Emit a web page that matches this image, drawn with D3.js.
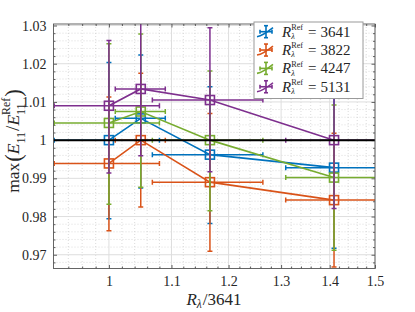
<!DOCTYPE html>
<html><head><meta charset="utf-8">
<script src="https://cdn.jsdelivr.net/npm/d3@7"></script>
<style>body{margin:0;background:#fff} svg{display:block}</style>
</head><body>
<script>
// ---------- data ----------
const categories = [3641, 3822, 4247, 5131];
const seriesColors = ["#0072BD", "#D95319", "#77AC30", "#7E2F8E"];
const xValues = [1.0, 1.0497, 1.1664, 1.4092];
const xErr = [0.08, 0.04, 0.098, 0.1];

const yBlue   = [1.0000, 1.0057, 0.9962, 0.9928];
const yOrange = [0.9939, 1.0000, 0.9890, 0.9843];
const yGreen  = [1.0045, 1.0075, 1.0000, 0.9902];
const yPurple = [1.0090, 1.0134, 1.0105, 1.0000];

const errUpBlue   = [0.0203, 0.0166, 0.0178, 0.0211];
const errLoBlue   = [0.0206, 0.0182, 0.0180, 0.0211];
const errUpOrange = [0.0174, 0.0175, 0.0180, 0.0175];
const errLoOrange = [0.0176, 0.0175, 0.0181, 0.0175];
const errUpGreen  = [0.0207, 0.0203, 0.0181, 0.0190];
const errLoGreen  = [0.0213, 0.0198, 0.0185, 0.0190];
const errUpPurple = [0.0171, 0.0176, 0.0189, 0.0179];
const errLoPurple = [0.0176, 0.0175, 0.0188, 0.0179];

const xTicks = [1, 1.1, 1.2, 1.3, 1.4, 1.5];
const xTickLabels = ["1", "1.1", "1.2", "1.3", "1.4", "1.5"];
const yTicks = [0.97, 0.98, 0.99, 1.0, 1.01, 1.02, 1.03];
const yTickLabels = ["0.97", "0.98", "0.99", "1", "1.01", "1.02", "1.03"];
const referenceLevel = 1;

const seriesY = [yBlue, yOrange, yGreen, yPurple];
const seriesUp = [errUpBlue, errUpOrange, errUpGreen, errUpPurple];
const seriesLo = [errLoBlue, errLoOrange, errLoGreen, errLoPurple];

// ---------- layout ----------
const W = 415, H = 312;
const L = 53.5, R = 375, T = 24, B = 268.5;
const FONT = "'Liberation Serif','DejaVu Serif',serif";

const svg = d3.select("body").append("svg").attr("width", W).attr("height", H)
  .style("font-family", FONT);

const x = d3.scaleLog().domain([0.919, 1.5]).range([L, R]);
const y = d3.scaleLinear().domain([0.9664, 1.0304]).range([B, T]);

svg.append("defs").append("clipPath").attr("id", "clip")
  .append("rect").attr("x", L).attr("y", T).attr("width", R - L).attr("height", B - T);

const xMinor = d3.range(0.94, 1.5, 0.02).map(v => +v.toFixed(2)).filter(v => !xTicks.some(t => Math.abs(t - v) < 1e-6));
const yMinor = d3.range(0.968, 1.0304, 0.002).map(v => +v.toFixed(3)).filter(v => !yTicks.some(t => Math.abs(t - v) < 1e-6));

// grid
const grid = svg.append("g");
grid.selectAll(".gxm").data(xMinor).join("line")
  .attr("x1", d => x(d)).attr("x2", d => x(d)).attr("y1", T).attr("y2", B)
  .attr("stroke", "#c4c4c4").attr("stroke-width", 0.6).attr("stroke-dasharray", "1,2");
grid.selectAll(".gym").data(yMinor).join("line")
  .attr("y1", d => y(d)).attr("y2", d => y(d)).attr("x1", L).attr("x2", R)
  .attr("stroke", "#c4c4c4").attr("stroke-width", 0.6).attr("stroke-dasharray", "1,2");
grid.selectAll(".gx").data(xTicks).join("line")
  .attr("x1", d => x(d)).attr("x2", d => x(d)).attr("y1", T).attr("y2", B)
  .attr("stroke", "#dedede").attr("stroke-width", 1);
grid.selectAll(".gy").data(yTicks).join("line")
  .attr("y1", d => y(d)).attr("y2", d => y(d)).attr("x1", L).attr("x2", R)
  .attr("stroke", "#dedede").attr("stroke-width", 1);

// axes
const axCol = "#3a3a3a";
function styleAxis(g) {
  g.select(".domain").remove();
  g.selectAll("line").attr("stroke", axCol).attr("stroke-width", 0.8);
  g.selectAll("text").attr("fill", "#262626").style("font-family", FONT).attr("font-size", 14);
}
svg.append("g").attr("transform", `translate(0,${B})`)
  .call(d3.axisBottom(x).tickValues(xTicks).tickFormat((d, i) => xTickLabels[i]).tickSizeInner(-3.5).tickSizeOuter(0).tickPadding(8))
  .call(styleAxis);
svg.append("g").attr("transform", `translate(0,${B})`)
  .call(d3.axisBottom(x).tickValues(xMinor).tickFormat("").tickSizeInner(-2).tickSizeOuter(0)).call(styleAxis);
svg.append("g").attr("transform", `translate(0,${T})`)
  .call(d3.axisTop(x).tickValues(xTicks).tickFormat("").tickSizeInner(-3.5).tickSizeOuter(0)).call(styleAxis);
svg.append("g").attr("transform", `translate(0,${T})`)
  .call(d3.axisTop(x).tickValues(xMinor).tickFormat("").tickSizeInner(-2).tickSizeOuter(0)).call(styleAxis);
svg.append("g").attr("transform", `translate(${L},0)`)
  .call(d3.axisLeft(y).tickValues(yTicks).tickFormat((d, i) => yTickLabels[i]).tickSizeInner(-3.5).tickSizeOuter(0).tickPadding(7))
  .call(styleAxis);
svg.append("g").attr("transform", `translate(${L},0)`)
  .call(d3.axisLeft(y).tickValues(yMinor).tickFormat("").tickSizeInner(-2).tickSizeOuter(0)).call(styleAxis);
svg.append("g").attr("transform", `translate(${R},0)`)
  .call(d3.axisRight(y).tickValues(yTicks).tickFormat("").tickSizeInner(-3.5).tickSizeOuter(0)).call(styleAxis);
svg.append("g").attr("transform", `translate(${R},0)`)
  .call(d3.axisRight(y).tickValues(yMinor).tickFormat("").tickSizeInner(-2).tickSizeOuter(0)).call(styleAxis);

// ---------- series ----------
const plot = svg.append("g").attr("clip-path", "url(#clip)");
const cap = 2.5, sw = 1.5, mk = 9;
seriesY.forEach((ys, s) => {
  const col = seriesColors[s];
  const g = plot.append("g");
  const pts = xValues.map((xv, i) => ({ xv, yv: ys[i], up: seriesUp[s][i], lo: seriesLo[s][i], xe: xErr[i] }));
  pts.forEach(p => {
    const xx = x(p.xv), y1 = y(p.yv + p.up), y0 = y(p.yv - p.lo);
    g.append("line").attr("x1", xx).attr("x2", xx).attr("y1", y1).attr("y2", y0).attr("stroke", col).attr("stroke-width", sw);
    [y1, y0].forEach(yy => g.append("line").attr("x1", xx - cap).attr("x2", xx + cap).attr("y1", yy).attr("y2", yy).attr("stroke", col).attr("stroke-width", sw));
    const yy = y(p.yv), x0 = x(p.xv - p.xe), x1 = x(p.xv + p.xe);
    g.append("line").attr("x1", x0).attr("x2", x1).attr("y1", yy).attr("y2", yy).attr("stroke", col).attr("stroke-width", sw);
    [x0, x1].forEach(xc => g.append("line").attr("x1", xc).attr("x2", xc).attr("y1", yy - cap).attr("y2", yy + cap).attr("stroke", col).attr("stroke-width", sw));
  });
  g.append("path").datum(pts)
    .attr("d", d3.line().x(p => x(p.xv)).y(p => y(p.yv)))
    .attr("fill", "none").attr("stroke", col).attr("stroke-width", 1.6);
  g.selectAll("rect").data(pts).join("rect")
    .attr("x", p => x(p.xv) - mk / 2).attr("y", p => y(p.yv) - mk / 2)
    .attr("width", mk).attr("height", mk)
    .attr("fill", "none").attr("stroke", col).attr("stroke-width", 1.6);
});

plot.append("line").attr("x1", L).attr("x2", R).attr("y1", y(referenceLevel)).attr("y2", y(referenceLevel))
  .attr("stroke", "#000").attr("stroke-width", 2);

svg.append("rect").attr("x", L).attr("y", T).attr("width", R - L).attr("height", B - T)
  .attr("fill", "none").attr("stroke", "#555").attr("stroke-width", 0.9);

// ---------- math text helper: one <text> with positioned <tspan>s ----------
function measure(str, size, italic) {
  const t = svg.append("text").attr("font-size", size).attr("font-style", italic ? "italic" : "normal").text(str);
  const w = t.node().getComputedTextLength();
  t.remove();
  return w;
}
function mathText(parent, parts, fs, opt = {}) {
  const ss = fs * (opt.ss || 0.68);
  const subY = fs * (opt.subY !== undefined ? opt.subY : 0.3);
  const supY = -fs * (opt.supY || 0.48);
  const spans = [];
  let cx = 0;
  parts.forEach(p => {
    cx += p.padL || 0;
    if (p.sub !== undefined || p.sup !== undefined) {
      let w = 0;
      if (p.sup) { spans.push({ x: cx, y: supY, size: ss, it: false, s: p.sup }); w = Math.max(w, measure(p.sup, ss, false)); }
      if (p.sub) { spans.push({ x: cx, y: subY, size: ss, it: !!p.subIt, s: p.sub }); w = Math.max(w, measure(p.sub, ss, !!p.subIt)); }
      cx += w + 1;
    } else {
      const size = fs * (p.scale || 1);
      spans.push({ x: cx, y: p.dy || 0, size, it: !!p.it, s: p.t });
      cx += measure(p.t, size, !!p.it);
    }
    cx += p.pad || 0;
  });
  const g = parent.append("g");
  const text = g.append("text").attr("fill", "#262626");
  spans.forEach(sp => text.append("tspan").attr("x", sp.x).attr("y", sp.y).attr("font-size", sp.size)
    .attr("font-style", sp.it ? "italic" : "normal").text(sp.s));
  return { g, width: cx };
}

// x label
{
  const m = mathText(svg, [{ t: "R", it: true }, { sub: "λ", subIt: true }, { t: "/3641" }], 17, { subY: 0.2 });
  m.g.attr("transform", `translate(${214 - m.width / 2},305)`);
}
// y label
{
  const yl = svg.append("g");
  const m = mathText(yl, [
    { t: "max", pad: 1 }, { t: "(", scale: 1.3, dy: 2 }, { t: "E", it: true }, { sub: "11" },
    { t: "/", scale: 1.1 }, { t: "E", it: true }, { sub: "11", sup: "Ref" }, { t: ")", scale: 1.3, dy: 2 }
  ], 17.5, { supY: 0.52, subY: 0.32 });
  m.g.attr("transform", `translate(${-m.width / 2},0)`);
  yl.attr("transform", `translate(19,141) rotate(-90)`);
}

// ---------- legend ----------
const lg = svg.append("g");
lg.append("rect").attr("x", 254).attr("y", 22).attr("width", 109).attr("height", 76.5)
  .attr("fill", "#fff").attr("stroke", "#9a9a9a").attr("stroke-width", 1);
categories.forEach((c, i) => {
  const cy = 31.7 + i * 18.35, cx = 266, col = seriesColors[i];
  const ig = lg.append("g").attr("stroke", col).attr("stroke-width", 1.6).attr("fill", "none");
  ig.append("line").attr("x1", cx).attr("x2", cx).attr("y1", cy - 6).attr("y2", cy + 6);
  ig.append("line").attr("x1", cx - 6).attr("x2", cx + 6).attr("y1", cy).attr("y2", cy);
  ig.append("line").attr("x1", cx - 2).attr("x2", cx + 2).attr("y1", cy - 6).attr("y2", cy - 6);
  ig.append("line").attr("x1", cx - 2).attr("x2", cx + 2).attr("y1", cy + 6).attr("y2", cy + 6);
  ig.append("line").attr("x1", cx - 6).attr("x2", cx - 6).attr("y1", cy - 2).attr("y2", cy + 2);
  ig.append("line").attr("x1", cx + 6).attr("x2", cx + 6).attr("y1", cy - 2).attr("y2", cy + 2);
  ig.append("path").attr("d", `M${cx - 9},${cy + 5} Q${cx - 3},${cy + 4} ${cx + 7},${cy - 4}`);
  const m = mathText(lg, [{ t: "R", it: true }, { sub: "λ", subIt: true, sup: "Ref" }, { t: "=", padL: 4, pad: 4 }, { t: String(c) }], 15,
    { ss: 0.55, subY: 0.157, supY: 0.453 });
  m.g.attr("transform", `translate(282,${cy + 5})`);
});
</script>
</body></html>
